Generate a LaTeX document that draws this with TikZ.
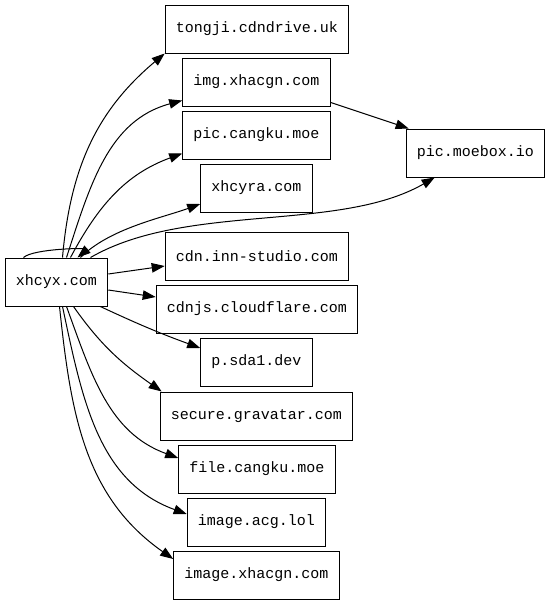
\documentclass[tikz,border=0pt]{standalone}
\usepackage{fontspec}
\setmonofont{Liberation Mono}
\usepackage{tikz}
\usetikzlibrary{arrows.meta, calc}

\begin{document}
\begin{tikzpicture}[
    x=1pt, y=1pt,
    host/.style={draw, line width=1pt, minimum height=48pt, inner xsep=10.8pt, font=\fontsize{15}{18}\selectfont\ttfamily},
    edge/.style={-{Triangle[length=13pt, width=9.5pt]}, line width=1pt}
]
    \useasboundingbox (0,0) rectangle (551,-605);

    % === Source host (left) ===
    \node[host] (xhcyx) at (56.5,-282) {xhcyx.com};

    % === Targets (middle column) ===
    \node[host] (tongji) at (257,-29) {tongji.cdndrive.uk};
    \node[host] (imgx) at (256.5,-82) {img.xhacgn.com};
    \node[host] (piccangku) at (256.5,-135) {pic.cangku.moe};
    \node[host] (xhcyra) at (256.5,-188) {xhcyra.com};
    \node[host] (innstudio) at (257,-256) {cdn.inn-studio.com};
    \node[host] (cdnjs) at (257,-309) {cdnjs.cloudflare.com};
    \node[host] (sda) at (256.5,-362) {p.sda1.dev};
    \node[host] (gravatar) at (256.5,-416) {secure.gravatar.com};
    \node[host] (filecangku) at (257,-469) {file.cangku.moe};
    \node[host] (acglol) at (256.5,-522) {image.acg.lol};
    \node[host] (imagex) at (256.5,-575) {image.xhacgn.com};

    % === Right column ===
    \node[host] (moebox) at (475.5,-153) {pic.moebox.io};

    % Upper fan
    \draw[edge] ([xshift=6pt]xhcyx.north) to[out=85, in=220] (tongji.south west);
    \draw[edge] ([xshift=10pt]xhcyx.north) to[out=72, in=195] ([yshift=6pt]imgx.south west);
    \draw[edge] ([xshift=14pt]xhcyx.north) to[out=62, in=200] ([yshift=6pt]piccangku.south west);
    \draw[edge] ([xshift=24pt]xhcyx.north) to[out=45, in=200, looseness=0.8] ([yshift=-16pt]xhcyra.west);
    \draw[edge] ([xshift=34pt]xhcyx.north) to[out=30, in=210, looseness=0.8] ([xshift=29pt]moebox.south west);

    % Self loop
    \draw[edge] ([xshift=-33pt]xhcyx.north) .. controls +(10,9) and +(12,10) .. ([xshift=21pt]xhcyx.north);

    % Straight right
    \draw[edge] ([yshift=8pt]xhcyx.east) -- ([yshift=-10pt]innstudio.west);
    \draw[edge] ([yshift=-8pt]xhcyx.east) -- ([yshift=12pt]cdnjs.west);

    % Lower fan
    \draw[edge] ([xshift=-8pt]xhcyx.south east) to[out=-25, in=160] ([yshift=14pt]sda.west);
    \draw[edge] ([xshift=17pt]xhcyx.south) to[out=-55, in=145] ([xshift=2pt]gravatar.north west);
    \draw[edge] ([xshift=10pt]xhcyx.south) to[out=-70, in=160] ([yshift=11pt]filecangku.west);
    \draw[edge] ([xshift=6pt]xhcyx.south) to[out=-78, in=160] ([yshift=8pt]acglol.west);
    \draw[edge] ([xshift=3pt]xhcyx.south) to[out=-84, in=145] ([yshift=16pt]imagex.west);

    % img -> moebox
    \draw[edge] ([yshift=4pt]imgx.south east) -- ([xshift=3pt]moebox.north west);
\end{tikzpicture}
\end{document}
